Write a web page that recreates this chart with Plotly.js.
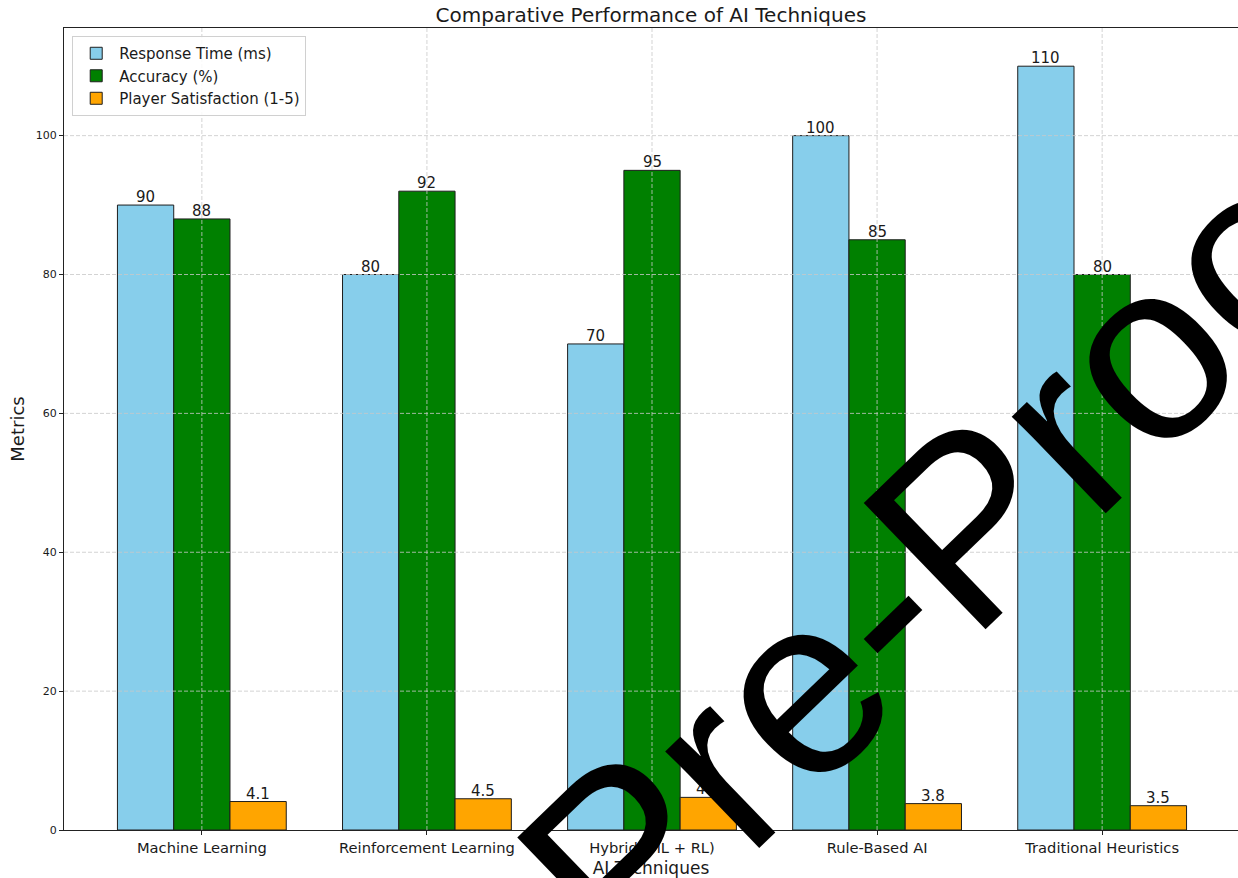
<!DOCTYPE html>
<html>
<head>
<meta charset="utf-8">
<script src="https://cdn.plot.ly/plotly-3.0.1.min.js"></script>
<style>
html,body{margin:0;padding:0;background:#fff;overflow:hidden;}
#chart{width:1238px;height:878px;}
</style>
</head>
<body>
<div id="chart"></div>
<script>
const techniques = ["Machine Learning", "Reinforcement Learning", "Hybrid (ML + RL)", "Rule-Based AI", "Traditional Heuristics"];
const responseTime = [90, 80, 70, 100, 110];
const accuracy = [88, 92, 95, 85, 80];
const satisfaction = [4.1, 4.5, 4.7, 3.8, 3.5];
const seriesNames = ["Response Time (ms)", "Accuracy (%)", "Player Satisfaction (1-5)"];
const seriesColors = ["#87CEEB", "#008000", "#FFA500"];
const yTicks = [0, 20, 40, 60, 80, 100];
const chartTitle = "Comparative Performance of AI Techniques";
const xTitle = "AI Techniques";
const yTitle = "Metrics";
const watermark = "Pre-Proof";

const FONT = "DejaVu Sans, sans-serif";
const TXT = "#1a1a1a";
const BAR_W = 0.25;

const seriesValues = [responseTime, accuracy, satisfaction];
const traces = seriesValues.map((vals, i) => ({
  type: "bar",
  name: seriesNames[i],
  x: techniques,
  y: vals,
  marker: {color: seriesColors[i], line: {color: "#1e1e1e", width: 1}},
  hoverinfo: "x+y+name"
}));

// value labels above each bar (positioned through the axis scales)
const labelAnns = [];
seriesValues.forEach((vals, k) => {
  vals.forEach((v, i) => {
    labelAnns.push({
      x: i + (k - 1) * BAR_W, y: v, xref: "x", yref: "y",
      text: String(v), showarrow: false,
      xanchor: "center", yanchor: "bottom", yshift: -3,
      font: {family: FONT, size: 15, color: TXT}
    });
  });
});

const gridStyle = {color: "rgba(200,200,200,0.8)", width: 1, dash: "4px,2px"};
const shapes = [];
yTicks.filter(v => v > 0).forEach(v => {
  shapes.push({type: "line", layer: "above", xref: "paper", yref: "y", x0: 0, x1: 1, y0: v, y1: v, line: gridStyle});
});
techniques.forEach((c, i) => {
  shapes.push({type: "line", layer: "above", xref: "x", yref: "paper", x0: i, x1: i, y0: 0, y1: 1, line: gridStyle});
});

const layout = {
  width: 1238,
  height: 878,
  margin: {l: 64, r: 0, t: 28, b: 48},
  paper_bgcolor: "#fff",
  plot_bgcolor: "#fff",
  font: {family: FONT, color: TXT},
  barmode: "group",
  bargap: 0.25,
  bargroupgap: 0,
  title: {
    text: chartTitle,
    font: {family: FONT, size: 20, color: TXT},
    xref: "paper", x: 0.5, xanchor: "center",
    yref: "container", y: 1 - 15/878, yanchor: "middle"
  },
  xaxis: {
    type: "category",
    range: [-0.6125, 4.6036],
    showgrid: false,
    showline: true, linecolor: "#222", linewidth: 1, mirror: true,
    ticks: "outside", ticklen: 4, tickcolor: "#222",
    tickfont: {family: FONT, size: 14.7, color: TXT},
    title: {text: xTitle, font: {family: FONT, size: 17, color: TXT}, standoff: 7}
  },
  yaxis: {
    range: [0, 115.5],
    tickvals: yTicks,
    ticktext: yTicks.map(String),
    showgrid: false,
    zeroline: false,
    showline: true, linecolor: "#222", linewidth: 1, mirror: false,
    ticks: "outside", ticklen: 4, tickcolor: "#222",
    tickfont: {family: FONT, size: 11, color: TXT},
    title: {text: yTitle, font: {family: FONT, size: 18, color: TXT}, standoff: 6}
  },
  legend: {
    x: 0.007, y: 0.99, xanchor: "left", yanchor: "top",
    bgcolor: "rgba(255,255,255,0.85)",
    bordercolor: "#d0d0d0", borderwidth: 1,
    font: {family: FONT, size: 15, color: TXT},
    itemwidth: 36,
    traceorder: "normal"
  },
  shapes: shapes,
  annotations: labelAnns.concat([{
    text: watermark,
    xref: "paper", yref: "paper",
    x: (955 - 64) / 1174, y: (830 - 535) / 802,
    xanchor: "center", yanchor: "middle",
    showarrow: false,
    textangle: -44,
    font: {family: "Liberation Sans, Arial, sans-serif", size: 255, color: "#000"}
  }])
};

Plotly.newPlot("chart", traces, layout, {displayModeBar: false, responsive: false});
</script>
</body>
</html>
